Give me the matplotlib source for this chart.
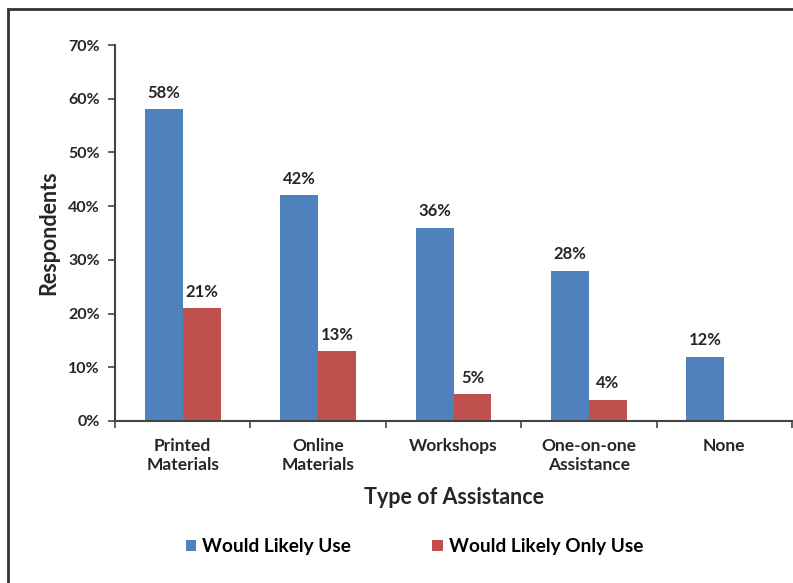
import matplotlib.pyplot as plt
import numpy as np
from matplotlib.patches import Rectangle

categories = ["Printed\nMaterials", "Online\nMaterials", "Workshops", "One-on-one\nAssistance", "None"]
likely_use = [58, 42, 36, 28, 12]
likely_only_use = [21, 13, 5, 4, None]
yticks = [0, 10, 20, 30, 40, 50, 60, 70]

blue = "#4F81BD"
red = "#C0504D"
txt = "#262626"

plt.rcParams['font.family'] = ['Lato', 'DejaVu Sans']

fig = plt.figure(figsize=(7.93, 5.83), dpi=100)
ax = fig.add_axes([115 / 793, 1 - 421 / 583, 677 / 793, 376 / 583])

x = np.arange(len(categories))
w = 0.28
ax.bar(x - w / 2, likely_use, w, color=blue, label="Would Likely Use")
only_x = [xi for xi, v in zip(x, likely_only_use) if v is not None]
only_v = [v for v in likely_only_use if v is not None]
ax.bar(np.array(only_x) + w / 2, only_v, w, color=red, label="Would Likely Only Use")

for xi, v in zip(x, likely_use):
    ax.text(xi - w / 2, v + 1.6, f"{v}%", ha="center", va="bottom",
            fontsize=12, fontweight="bold", color=txt)
for xi, v in zip(only_x, only_v):
    ax.text(xi + w / 2, v + 1.6, f"{v}%", ha="center", va="bottom",
            fontsize=12, fontweight="bold", color=txt)

ax.set_xlim(-0.5, len(categories) - 0.5)
ax.set_ylim(0, 70)
ax.set_yticks(yticks)
ax.set_yticklabels([f"{t}%" for t in yticks], fontsize=11.5, fontweight="bold", color=txt)

# category labels between boundary ticks
ax.set_xticks(np.arange(len(categories) + 1) - 0.5)
ax.set_xticklabels([])
ax.set_xticks(x, minor=True)
ax.set_xticklabels(categories, minor=True, fontsize=12.5, fontweight="bold", color=txt,
                   linespacing=1.25)
ax.tick_params(axis="x", which="minor", length=0, pad=12)
ax.tick_params(axis="x", which="major", length=5, width=1.2, color="#444444")
ax.tick_params(axis="y", length=5, width=1.2, color="#444444", pad=6)

for s in ["top", "right"]:
    ax.spines[s].set_visible(False)
for s in ["left", "bottom"]:
    ax.spines[s].set_color("#444444")
    ax.spines[s].set_linewidth(1.5)

ax.set_ylabel("Respondents", fontsize=15.5, fontweight="bold", color=txt, labelpad=6)
ax.set_xlabel("Type of Assistance", fontsize=15.5, fontweight="bold", color=txt, labelpad=10)

ax.legend(loc="center", bbox_to_anchor=(0.442, -0.335), ncol=2, frameon=False,
          prop={"weight": "bold", "size": 13.7}, handlelength=0.55,
          handleheight=0.55, columnspacing=4.3, handletextpad=0.3)

# outer chart border
fig.patches.append(Rectangle((8 / 793, -0.1), 1.2, 1 - 9 / 583 + 0.1,
                             transform=fig.transFigure, fill=False,
                             edgecolor="#333333", linewidth=2))

fig.savefig("out.png", dpi=100)
